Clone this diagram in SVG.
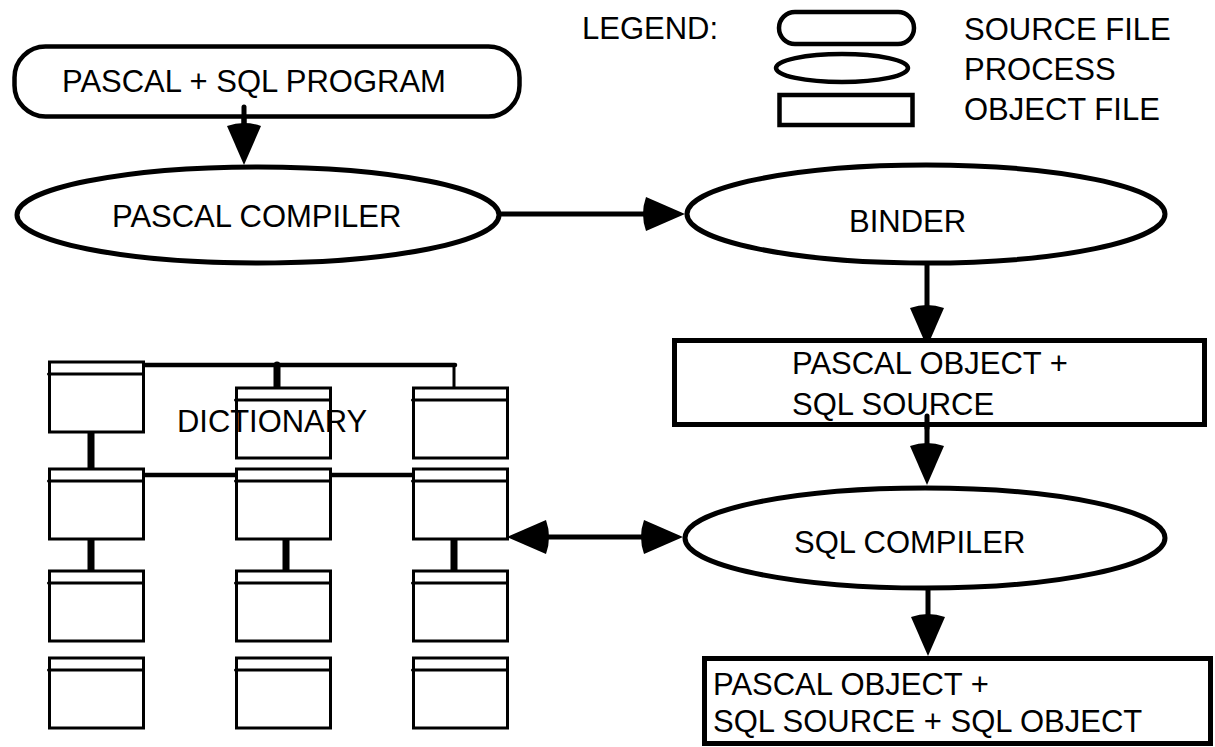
<svg xmlns="http://www.w3.org/2000/svg" width="1215" height="747" viewBox="0 0 1215 747">
  <style>
    text { font-family: "Liberation Sans", Arial, Helvetica, sans-serif; font-size: 31px; fill: #000; }
    .shape { fill: #fff; stroke: #000; stroke-width: 5; }
    .leg { fill: #fff; stroke: #000; stroke-width: 4.5; }
    .tbl { fill: #fff; stroke: #000; stroke-width: 3; }
    .hdr { fill: none; stroke: #000; stroke-width: 3; stroke-linecap: round; }
    .wire { fill: none; stroke: #000; stroke-width: 5; stroke-linecap: round; }
    .link { fill: none; stroke: #000; stroke-width: 4.5; stroke-linecap: round; }
    .link-thick { fill: none; stroke: #000; stroke-width: 7; stroke-linecap: round; }
    .link-thin { fill: none; stroke: #000; stroke-width: 3; stroke-linecap: round; }
  </style>
  <defs>
    <!-- arrowhead pointing right, tip at the origin, slightly bowed back -->
    <path id="head" d="M0,0 L-39,-17 Q-45,0 -39,17 Z" fill="#000"/>
    <!-- dictionary table: outline plus header rule -->
    <g id="table">
      <rect class="tbl" x="0" y="0" width="94" height="70"/>
      <line class="hdr" x1="-1" y1="12" x2="94" y2="12"/>
    </g>
  </defs>

  <rect width="1215" height="747" fill="#fff"/>

  <!-- legend -->
  <g id="legend">
    <text x="582" y="39">LEGEND:</text>
    <rect class="leg" x="779" y="12" width="135" height="32" rx="16" ry="16"/>
    <ellipse class="leg" cx="842" cy="68" rx="66" ry="14"/>
    <rect class="leg" x="779.5" y="95" width="133" height="30"/>
    <text x="964" y="40">SOURCE FILE</text>
    <text x="964" y="80">PROCESS</text>
    <text x="964" y="120">OBJECT FILE</text>
  </g>

  <!-- connectors -->
  <g id="connectors">
    <line class="wire" x1="244" y1="108" x2="244" y2="128"/>
    <use href="#head" transform="translate(244,165) rotate(90)"/>

    <line class="wire" x1="499" y1="214" x2="650" y2="214"/>
    <use href="#head" transform="translate(685,214)"/>

    <line class="wire" x1="927" y1="265" x2="927" y2="312"/>
    <use href="#head" transform="translate(927,347) rotate(90)"/>

    <line class="wire" x1="927" y1="417" x2="927" y2="450"/>
    <use href="#head" transform="translate(927,485) rotate(90)"/>

    <line class="wire" x1="928" y1="590" x2="928" y2="621"/>
    <use href="#head" transform="translate(928,656) rotate(90)"/>

    <line class="wire" x1="540" y1="537" x2="650" y2="537"/>
    <use href="#head" transform="translate(507,537) rotate(180)"/>
    <use href="#head" transform="translate(683,537)"/>
  </g>

  <!-- program flow -->
  <g id="pascal-sql-program">
    <rect class="leg" x="14.5" y="46.5" width="505" height="70" rx="31" ry="31"/>
    <text x="62" y="92">PASCAL + SQL PROGRAM</text>
  </g>
  <line class="wire" x1="244" y1="107" x2="244" y2="128"/>

  <g id="pascal-compiler">
    <ellipse class="shape" cx="258" cy="215" rx="241" ry="48"/>
    <text x="112" y="227">PASCAL COMPILER</text>
  </g>

  <g id="binder">
    <ellipse class="shape" cx="926" cy="214" rx="239" ry="49"/>
    <text x="849" y="232">BINDER</text>
  </g>

  <g id="pascal-object-sql-source">
    <rect class="shape" x="674.5" y="340.5" width="530" height="84"/>
    <text x="792" y="374">PASCAL OBJECT +</text>
    <text x="792" y="415">SQL SOURCE</text>
  </g>
  <line class="wire" x1="927" y1="416" x2="927" y2="428"/>

  <g id="sql-compiler">
    <ellipse class="shape" cx="925" cy="538" rx="240" ry="50"/>
    <text x="794" y="553">SQL COMPILER</text>
  </g>

  <g id="pascal-object-sql-source-sql-object">
    <rect class="shape" x="704.5" y="658.5" width="506" height="85"/>
    <text x="713" y="695">PASCAL OBJECT +</text>
    <text x="713" y="732">SQL SOURCE + SQL OBJECT</text>
  </g>

  <!-- dictionary links -->
  <g id="dictionary-links">
    <line class="link" x1="141" y1="365" x2="455" y2="365"/>
    <line class="link-thick" x1="277" y1="365" x2="277" y2="387"/>
    <line class="link-thin" x1="454" y1="365" x2="454" y2="387"/>
    <line class="link-thick" x1="91" y1="430" x2="91" y2="468"/>
    <line class="link" x1="141" y1="475" x2="236" y2="475"/>
    <line class="link" x1="327" y1="475" x2="413" y2="475"/>
    <line class="link-thick" x1="91" y1="537" x2="91" y2="570"/>
    <line class="link-thick" x1="286" y1="537" x2="286" y2="570"/>
    <line class="link-thick" x1="454" y1="537" x2="454" y2="570"/>
  </g>

  <!-- dictionary tables -->
  <g id="dict-1-1"><use href="#table" transform="translate(49.5,362)"/></g>
  <g id="dict-1-2"><use href="#table" transform="translate(236.5,388)"/></g>
  <g id="dict-1-3"><use href="#table" transform="translate(413.5,388)"/></g>
  <g id="dict-2-1"><use href="#table" transform="translate(49.5,469)"/></g>
  <g id="dict-2-2"><use href="#table" transform="translate(236.5,469)"/></g>
  <g id="dict-2-3"><use href="#table" transform="translate(413.5,469)"/></g>
  <g id="dict-3-1"><use href="#table" transform="translate(49.5,571)"/></g>
  <g id="dict-3-2"><use href="#table" transform="translate(236.5,571)"/></g>
  <g id="dict-3-3"><use href="#table" transform="translate(413.5,571)"/></g>
  <g id="dict-4-1"><use href="#table" transform="translate(49.5,658)"/></g>
  <g id="dict-4-2"><use href="#table" transform="translate(236.5,658)"/></g>
  <g id="dict-4-3"><use href="#table" transform="translate(413.5,658)"/></g>

  <g id="dictionary-label">
    <text x="177" y="432" textLength="190" lengthAdjust="spacingAndGlyphs">DICTIONARY</text>
  </g>
</svg>
